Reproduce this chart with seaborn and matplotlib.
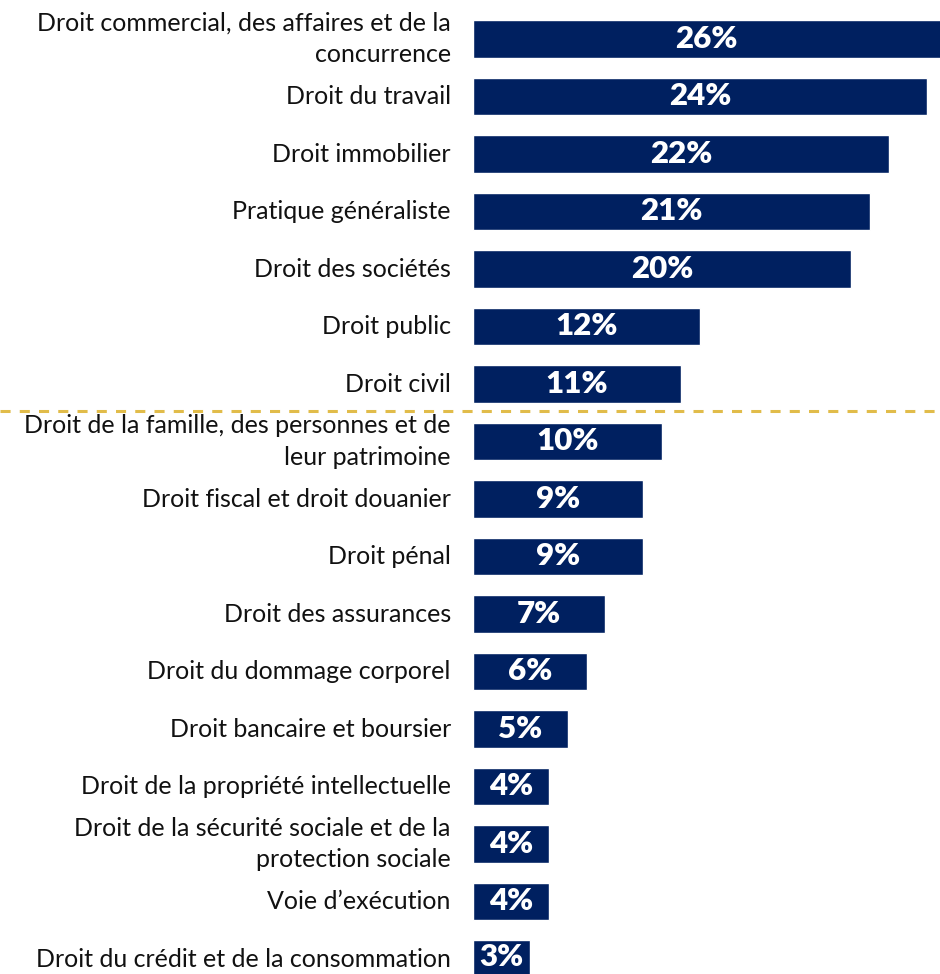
import matplotlib
matplotlib.use("Agg")
import matplotlib.pyplot as plt
import seaborn as sns
import pandas as pd

categories = [
    "Droit commercial, des affaires et de la\nconcurrence",
    "Droit du travail",
    "Droit immobilier",
    "Pratique généraliste",
    "Droit des sociétés",
    "Droit public",
    "Droit civil",
    "Droit de la famille, des personnes et de\nleur patrimoine",
    "Droit fiscal et droit douanier",
    "Droit pénal",
    "Droit des assurances",
    "Droit du dommage corporel",
    "Droit bancaire et boursier",
    "Droit de la propriété intellectuelle",
    "Droit de la sécurité sociale et de la\nprotection sociale",
    "Voie d’exécution",
    "Droit du crédit et de la consommation",
]
values = [26, 24, 22, 21, 20, 12, 11, 10, 9, 9, 7, 6, 5, 4, 4, 4, 3]
value_labels = [f"{v}%" for v in values]

df = pd.DataFrame({"cat": categories, "val": values})

sns.set_theme(style="white")
plt.rcParams["font.family"] = ["Lato", "DejaVu Sans"]

W, H = 940, 974
fig = plt.figure(figsize=(W / 100, H / 100), dpi=100)
left_px = 473
ax = fig.add_axes([left_px / W, 0, 1 - left_px / W, 1])

sns.barplot(data=df, x="val", y="cat", orient="h", color="#002060",
            saturation=1, width=0.66, ax=ax, order=categories)

px_per_unit = 18.92
ax.set_xlim(0, (W - left_px) / px_per_unit)
row = 57.5
c0 = 39
ax.set_ylim((H - c0) / row, -c0 / row)

for cont in ax.containers:
    texts = ax.bar_label(cont, labels=value_labels, label_type="center",
                         color="white", fontsize=22.5, fontweight="heavy")
    for t in texts:
        x, y = t.get_position()
        t.set_position((x, y + 0.04))

ax.set_xlabel("")
ax.set_ylabel("")
ax.set_xticks([])
ax.tick_params(axis="y", length=0, pad=16)
for lab in ax.get_yticklabels():
    lab.set_fontsize(18)
    lab.set_color("#111111")
    lab.set_linespacing(1.45)
    lab.set_horizontalalignment("right")
    lab.set_verticalalignment("center")
for s in ax.spines.values():
    s.set_visible(False)

ax.axhline((411 - c0) / row, xmin=-left_px / (W - left_px), xmax=1,
           clip_on=False, color="#E1BC4A", lw=2.2, dashes=(3.3, 3))

fig.savefig("out.png", dpi=100)
